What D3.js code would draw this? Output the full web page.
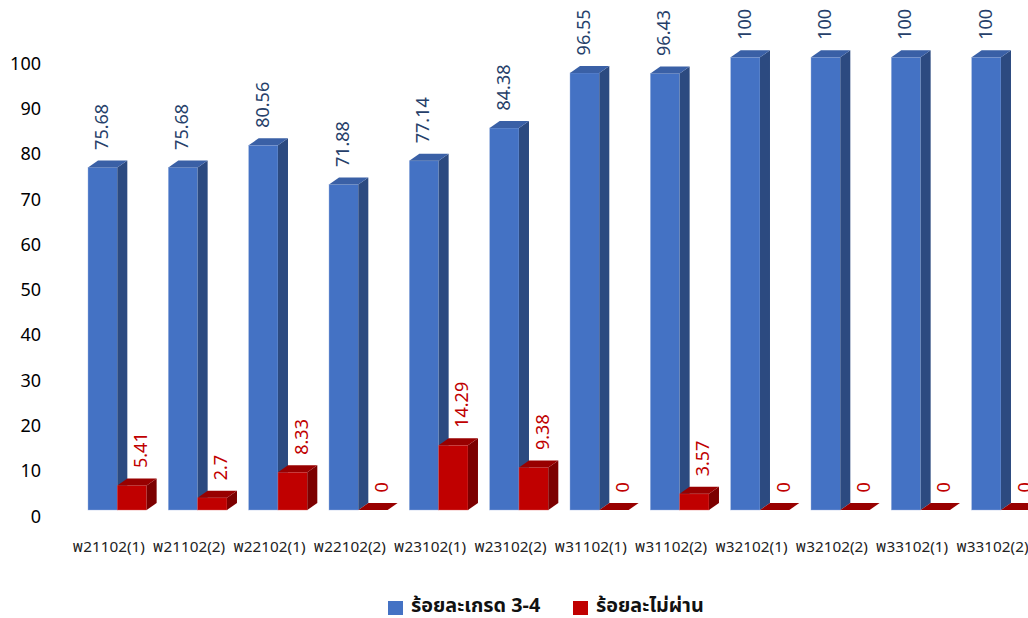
<!DOCTYPE html>
<html><head><meta charset="utf-8">
<script src="https://cdn.jsdelivr.net/npm/d3@7"></script>
<style>body{margin:0;background:#fff}svg{display:block}</style>
</head><body>
<svg id="c" width="1028" height="618"></svg>
<script>
const categories = ["พ21102(1)","พ21102(2)","พ22102(1)","พ22102(2)","พ23102(1)","พ23102(2)","พ31102(1)","พ31102(2)","พ32102(1)","พ32102(2)","พ33102(1)","พ33102(2)"];
const grade34 = [75.68,75.68,80.56,71.88,77.14,84.38,96.55,96.43,100,100,100,100];
const failPct = [5.41,2.7,8.33,0,14.29,9.38,0,3.57,0,0,0,0];
const yTicks = [0,10,20,30,40,50,60,70,80,90,100];
const seriesNames = ["ร้อยละเกรด 3-4","ร้อยละไม่ผ่าน"];

const svg = d3.select("#c");
const y = d3.scaleLinear().domain([0,100]).range([510,57.3]);
const x = d3.scaleBand().domain(categories).range([72,1036]).padding(0);
const bw = x.bandwidth()*0.365;
const DX = 10, DY = 7;
const thaiFont = "Tahoma, 'Noto Sans Thai', 'Loma', 'Garuda', 'Noto Sans', sans-serif";

// y tick labels
svg.append("g").selectAll("text").data(yTicks).join("text")
  .attr("x",41).attr("y",d=>y(d)+5.5)
  .attr("text-anchor","end").attr("dominant-baseline","central")
  .attr("font-family","'Noto Sans', sans-serif").attr("font-size",18).attr("fill","#000")
  .text(d=>d);

const palettes = [
  {front:"#4472c4", side:"#2c4a80", top:"#3a60a6", edge:"#9db4e0", label:"#263f6a"},
  {front:"#c00000", side:"#7c0000", top:"#980000", edge:"#e06060", label:"#c00000"}
];

function drawBar(g, left, v, p){
  const yb = y(0), yt = y(v), r = left+bw;
  g.append("rect").attr("x",left).attr("y",yt).attr("width",bw).attr("height",yb-yt)
    .attr("fill",p.front).attr("stroke",p.edge).attr("stroke-width",0.6).attr("stroke-opacity",0.7);
  g.append("path").attr("d",`M${r},${yb}L${r+DX},${yb-DY}L${r+DX},${yt-DY}L${r},${yt}Z`)
    .attr("fill",p.side);
  g.append("path").attr("d",`M${left},${yt}L${left+DX},${yt-DY}L${r+DX},${yt-DY}L${r},${yt}Z`)
    .attr("fill",p.top);
}

const bars = svg.append("g");
categories.forEach((c,i)=>{
  const g = bars.append("g");
  const bl = x(c)+16;
  drawBar(g, bl, grade34[i], palettes[0]);
  drawBar(g, bl+bw, failPct[i], palettes[1]);
});

function label(v, cx, p){
  const ty = y(v)-17.5;
  svg.append("text").attr("transform",`translate(${cx},${ty}) rotate(-90)`)
    .attr("text-anchor","start").attr("dominant-baseline","central")
    .attr("font-family","'Noto Sans', sans-serif").attr("font-size",18).attr("fill",p.label)
    .text(v);
}
categories.forEach((c,i)=>{
  const bl = x(c)+16;
  label(grade34[i], bl+bw/2-1.5, palettes[0]);
  label(failPct[i], bl+bw+bw/2+8, palettes[1]);
});

// x labels
svg.append("g").selectAll("text").data(categories).join("text")
  .attr("x",d=>x(d)+x.bandwidth()/2-3.5).attr("y",547)
  .attr("text-anchor","middle").attr("dominant-baseline","central")
  .attr("font-family",thaiFont).attr("font-size",15.3).attr("fill","#222")
  .text(d=>d);

// legend
const leg = [{x:388, tx:411},{x:573, tx:596}];
seriesNames.forEach((n,i)=>{
  svg.append("rect").attr("x",leg[i].x).attr("y",601).attr("width",15).attr("height",14)
    .attr("fill",palettes[i].front);
  svg.append("text").attr("x",leg[i].tx).attr("y",606).attr("dominant-baseline","central")
    .attr("font-family",thaiFont).attr("font-size",19.8).attr("font-weight","bold").attr("fill","#111")
    .text(n);
});
</script>
</body></html>
